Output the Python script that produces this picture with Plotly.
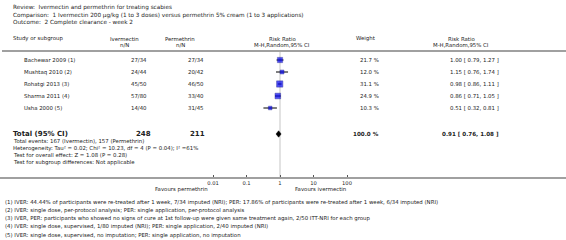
import plotly.graph_objects as go
import numpy as np

W, H = 566, 240

title_lines = [
    "Review:  Ivermectin and permethrin for treating scabies",
    "Comparison:  1 Ivermectin 200 µg/kg (1 to 3 doses) versus permethrin 5% cream (1 to 3 applications)",
    "Outcome:  2 Complete clearance - week 2",
]
studies = ["Bachewar 2009 (1)", "Mushtaq 2010 (2)", "Rohatgi 2013 (3)", "Sharma 2011 (4)", "Usha 2000 (5)"]
iver_nN = ["27/34", "24/44", "45/50", "57/80", "14/40"]
perm_nN = ["27/34", "20/42", "46/50", "33/40", "31/45"]
weights = [21.7, 12.0, 31.1, 24.9, 10.3]
rr = [1.00, 1.15, 0.98, 0.86, 0.51]
rr_lo = [0.79, 0.76, 0.86, 0.71, 0.32]
rr_hi = [1.27, 1.74, 1.11, 1.05, 0.81]
total_rr, total_lo, total_hi = 0.91, 0.76, 1.08
total_iver_N, total_perm_N = 248, 211
total_weight = 100.0
summary_lines = [
    "Total events: 167 (Ivermectin), 157 (Permethrin)",
    "Heterogeneity: Tau² = 0.02; Chi² = 10.23, df = 4 (P = 0.04); I² =61%",
    "Test for overall effect: Z = 1.08 (P = 0.28)",
    "Test for subgroup differences: Not applicable",
]
tick_vals = [0.01, 0.1, 1, 10, 100]
tick_text = ["0.01", "0.1", "1", "10", "100"]
favours_left = "Favours permethrin"
favours_right = "Favours ivermectin"
footnotes = [
    "(1) IVER: 44.44% of participants were re-treated after 1 week, 7/34 imputed (NRI); PER: 17.86% of participants were re-treated after 1 week, 6/34 imputed (NRI)",
    "(2) IVER: single dose, per-protocol analysis; PER: single application, per-protocol analysis",
    "(3) IVER, PER: participants who showed no signs of cure at 1st follow-up were given same treatment again, 2/50 ITT-NRI for each group",
    "(4) IVER: single dose, supervised, 1/80 imputed (NRI); PER: single application, 2/40 imputed (NRI)",
    "(5) IVER: single dose, supervised, no imputation; PER: single application, no imputation",
]

FONT = "DejaVu Sans"
TXT = "#222222"
FS = 5.4


def X(px):
    return px / W


def Y(py):
    return 1 - py / H


# layout geometry (pixels)
row0, row_step = 60, 12
header_line_y = 51
axis_y = 177
px_one, px_per_decade = 280, 33.5
row_py = [row0 + row_step * k for k in range(len(studies))]
total_py = 134

anns = []


def add(text, px, py, anchor="left", size=FS, color=TXT):
    anns.append(dict(text=text, x=X(px), y=Y(py), xref="paper", yref="paper",
                     xanchor=anchor, yanchor="middle", showarrow=False,
                     font=dict(family=FONT, size=size, color=color), borderpad=0))


for i, t in enumerate(title_lines):
    add(t, 12, 8 + 7 * i, size=5.7)

# headers
add("Study or subgroup", 12, 39)
add("Ivermectin", 124, 39, "center")
add("n/N", 124, 45, "center")
add("Permethrin", 180, 39, "center")
add("n/N", 180, 45, "center")
add("Risk Ratio", 282, 39, "center")
add("M-H,Random,95% CI", 282, 45, "center")
add("Weight", 365, 39, "center")
add("Risk Ratio", 461, 39, "center")
add("M-H,Random,95% CI", 461, 45, "center")

for i, s in enumerate(studies):
    py = row_py[i]
    add(s, 23, py)
    add(iver_nN[i], 148, py, "right")
    add(perm_nN[i], 205, py, "right")
    add(f"{weights[i]:.1f} %", 380, py, "right")
    add(f"{rr[i]:.2f} [ {rr_lo[i]:.2f}, {rr_hi[i]:.2f} ]", 500, py, "right")

add("<b>Total (95% CI)</b>", 12, total_py, size=7)
add(f"<b>{total_iver_N}</b>", 152, total_py, "right", size=7)
add(f"<b>{total_perm_N}</b>", 206, total_py, "right", size=7)
add(f"<b>{total_weight:.1f} %</b>", 380, total_py, "right", size=5.6)
add(f"<b>{total_rr:.2f} [ {total_lo:.2f}, {total_hi:.2f} ]</b>", 500, total_py, "right", size=5.6)
for i, t in enumerate(summary_lines):
    add(t, 12, 141 + 7 * i)

add(favours_left, 181, 189, "center")
add(favours_right, 320, 189, "center")

for i, t in enumerate(footnotes):
    add(t, 4, 202 + 8.3 * i)

# y axis in row units: row k at pixel row0 + row_step*k
y_top = (header_line_y - row0) / row_step
y_bot = (axis_y - row0) / row_step
ks = list(range(len(studies)))
total_k = (total_py - row0) / row_step

fig = go.Figure()

# confidence intervals
fig.add_trace(go.Scatter(
    x=rr, y=ks, mode="markers",
    marker=dict(size=0.1, color="black"),
    error_x=dict(type="data", symmetric=False,
                 array=[h - r for h, r in zip(rr_hi, rr)],
                 arrayminus=[r - l for r, l in zip(rr, rr_lo)],
                 color="black", thickness=1, width=0),
    hoverinfo="skip", showlegend=False))

# weighted squares
sizes = [6.3 * np.sqrt(w / max(weights)) for w in weights]
fig.add_trace(go.Scatter(
    x=rr, y=ks, mode="markers",
    marker=dict(symbol="square", size=sizes, color="#0000ee",
                line=dict(color="#000080", width=0.5)),
    showlegend=False))

# diamond
dh = 3.2 / row_step
fig.add_trace(go.Scatter(
    x=[total_lo, total_rr, total_hi, total_rr, total_lo],
    y=[total_k, total_k - dh, total_k, total_k + dh, total_k],
    mode="lines", fill="toself", fillcolor="black",
    line=dict(color="black", width=0.5), showlegend=False))

x_left = (0 - px_one) / px_per_decade
x_right = (W - px_one) / px_per_decade

fig.update_layout(
    width=W, height=H, margin=dict(l=0, r=0, t=0, b=0),
    paper_bgcolor="white", plot_bgcolor="white",
    annotations=anns,
    xaxis=dict(type="log", range=[x_left, x_right], domain=[0, 1],
               tickvals=tick_vals, ticktext=tick_text,
               ticks="inside", ticklen=2, tickcolor="#555", tickwidth=1,
               tickfont=dict(family=FONT, size=5.2, color=TXT),
               showline=True, linecolor="#a0a0a0", linewidth=2,
               showgrid=False, zeroline=False, fixedrange=True,
               automargin=False),
    yaxis=dict(range=[y_bot, y_top], domain=[Y(axis_y), Y(header_line_y)],
               visible=False, showgrid=False, zeroline=False, fixedrange=True,
               automargin=False),
    shapes=[
        dict(type="line", xref="paper", yref="paper", x0=X(2), x1=1,
             y0=Y(header_line_y), y1=Y(header_line_y),
             line=dict(color="#a0a0a0", width=2)),
        dict(type="line", xref="x", yref="paper", x0=1, x1=1,
             y0=Y(header_line_y), y1=Y(axis_y),
             line=dict(color="#d8d8d8", width=1.5), layer="below"),
    ],
)

fig.write_html("out.html", config={"displayModeBar": False},
               post_script="document.body.style.margin='0';document.body.style.overflow='hidden';")
